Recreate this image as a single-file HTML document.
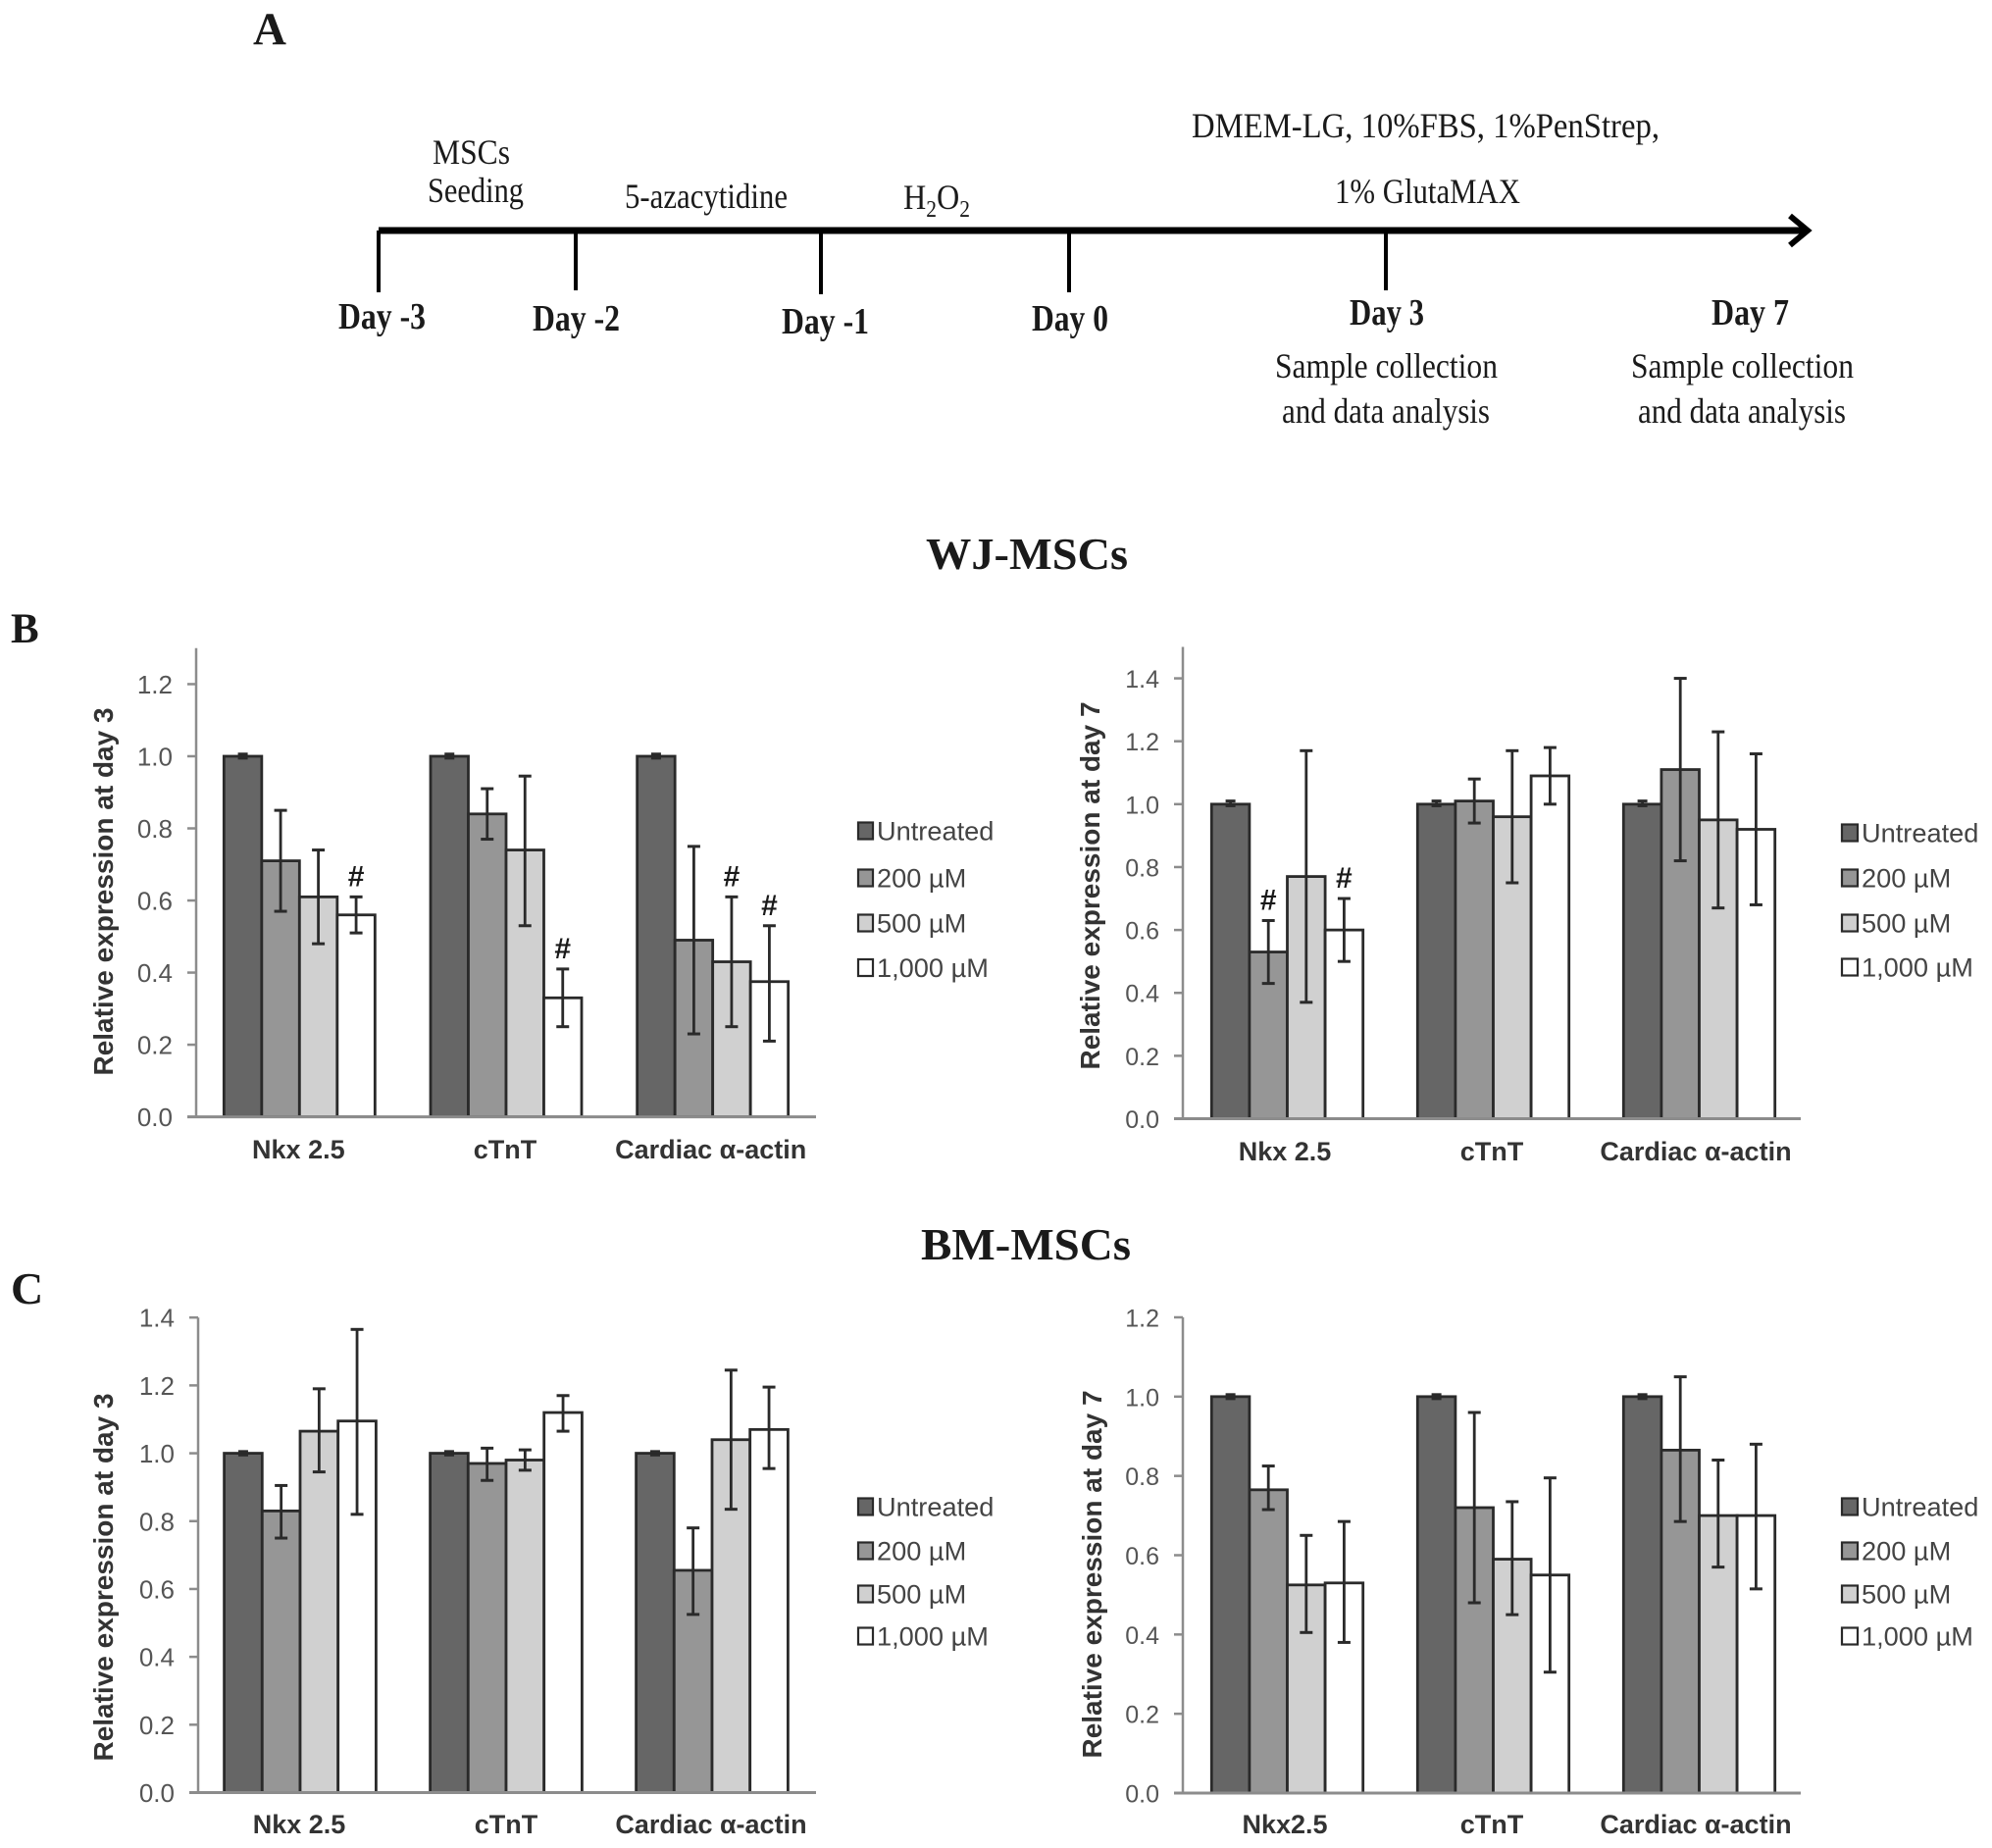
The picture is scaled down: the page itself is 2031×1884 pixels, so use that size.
<!DOCTYPE html>
<html lang="en">
<head>
<meta charset="utf-8">
<title>MSC cardiac marker expression</title>
<style>
html,body{margin:0;padding:0;background:#fff;width:2031px;height:1884px;overflow:hidden}
svg{display:block}
.serif{font-family:"Liberation Serif",serif;fill:#1a1a1a}
.sans{font-family:"Liberation Sans",sans-serif}
</style>
</head>
<body>
<svg id="figure" xmlns="http://www.w3.org/2000/svg" width="2031" height="1884" viewBox="0 0 2031 1884">
  <rect x="0" y="0" width="2031" height="1884" fill="#fff"/>

  <g>
    <text class="serif" x="258" y="45" font-size="47" font-weight="bold" fill="#111">A</text>
    <line x1="386" y1="235" x2="1840" y2="235" stroke="#000" stroke-width="7"/>
    <polyline points="1825,220 1843,235 1825,250" fill="none" stroke="#000" stroke-width="6"/>
    <line x1="386" y1="235" x2="386" y2="298" stroke="#000" stroke-width="4"/>
    <line x1="587" y1="235" x2="587" y2="296" stroke="#000" stroke-width="4"/>
    <line x1="837" y1="235" x2="837" y2="300" stroke="#000" stroke-width="4"/>
    <line x1="1090" y1="235" x2="1090" y2="298" stroke="#000" stroke-width="4"/>
    <line x1="1413" y1="235" x2="1413" y2="296" stroke="#000" stroke-width="4"/>

    <text class="serif" x="441" y="167" font-size="36" textLength="79" lengthAdjust="spacingAndGlyphs">MSCs</text>
    <text class="serif" x="436" y="206" font-size="36" textLength="98" lengthAdjust="spacingAndGlyphs">Seeding</text>
    <text class="serif" x="637" y="212" font-size="36" textLength="166" lengthAdjust="spacingAndGlyphs">5-azacytidine</text>
    <text class="serif" x="921" y="213" font-size="36" textLength="68" lengthAdjust="spacingAndGlyphs">H<tspan dy="8" font-size="24">2</tspan><tspan dy="-8">O</tspan><tspan dy="8" font-size="24">2</tspan></text>
    <text class="serif" x="1215" y="140" font-size="36" textLength="477" lengthAdjust="spacingAndGlyphs">DMEM-LG, 10%FBS,  1%PenStrep,</text>
    <text class="serif" x="1361" y="207" font-size="36" textLength="189" lengthAdjust="spacingAndGlyphs">1% GlutaMAX</text>

    <text class="serif" x="345" y="335" font-size="38" font-weight="bold" textLength="89" lengthAdjust="spacingAndGlyphs">Day -3</text>
    <text class="serif" x="543" y="337" font-size="38" font-weight="bold" textLength="89" lengthAdjust="spacingAndGlyphs">Day -2</text>
    <text class="serif" x="797" y="340" font-size="38" font-weight="bold" textLength="89" lengthAdjust="spacingAndGlyphs">Day -1</text>
    <text class="serif" x="1052" y="337" font-size="38" font-weight="bold" textLength="78" lengthAdjust="spacingAndGlyphs">Day 0</text>
    <text class="serif" x="1376" y="331" font-size="38" font-weight="bold" textLength="76" lengthAdjust="spacingAndGlyphs">Day 3</text>
    <text class="serif" x="1745" y="331" font-size="38" font-weight="bold" textLength="79" lengthAdjust="spacingAndGlyphs">Day 7</text>

    <text class="serif" x="1300" y="385" font-size="36" textLength="227" lengthAdjust="spacingAndGlyphs">Sample collection</text>
    <text class="serif" x="1307" y="431" font-size="36" textLength="212" lengthAdjust="spacingAndGlyphs">and data analysis</text>
    <text class="serif" x="1663" y="385" font-size="36" textLength="227" lengthAdjust="spacingAndGlyphs">Sample collection</text>
    <text class="serif" x="1670" y="431" font-size="36" textLength="212" lengthAdjust="spacingAndGlyphs">and data analysis</text>
  </g>

  <text class="serif" x="944" y="580" font-size="46" font-weight="bold" textLength="206" lengthAdjust="spacingAndGlyphs">WJ-MSCs</text>
  <text class="serif" x="939" y="1284" font-size="46" font-weight="bold" textLength="214" lengthAdjust="spacingAndGlyphs">BM-MSCs</text>
  <text class="serif" x="11" y="655" font-size="43" font-weight="bold" fill="#111">B</text>
  <text class="serif" x="11" y="1329" font-size="46" font-weight="bold" fill="#111">C</text>

  <g id="charts"></g>
</svg>

<script>
const seriesNames = ['Untreated', '200 µM', '500 µM', '1,000 µM'];
const seriesColors = ['#666666', '#969696', '#d0d0d0', '#ffffff'];

const wjDay3Categories = ['Nkx 2.5', 'cTnT', 'Cardiac α-actin'];
const wjDay3Ticks = ['0.0', '0.2', '0.4', '0.6', '0.8', '1.0', '1.2'];
const wjDay3Max = 1.3;
const wjDay3Means = [[1.0, 1.0, 1.0], [0.71, 0.84, 0.49], [0.61, 0.74, 0.43], [0.56, 0.33, 0.375]];
const wjDay3Upper = [[1.006, 1.006, 1.006], [0.85, 0.91, 0.75], [0.74, 0.945, 0.61], [0.61, 0.41, 0.53]];
const wjDay3Lower = [[0.995, 0.995, 0.995], [0.57, 0.77, 0.23], [0.48, 0.53, 0.25], [0.51, 0.25, 0.21]];
const wjDay3Hash = [[0, 0, 0], [0, 0, 0], [0, 0, 1], [1, 1, 1]];

const wjDay7Categories = ['Nkx 2.5', 'cTnT', 'Cardiac α-actin'];
const wjDay7Ticks = ['0.0', '0.2', '0.4', '0.6', '0.8', '1.0', '1.2', '1.4'];
const wjDay7Max = 1.5;
const wjDay7Means = [[1.0, 1.0, 1.0], [0.53, 1.01, 1.11], [0.77, 0.96, 0.95], [0.6, 1.09, 0.92]];
const wjDay7Upper = [[1.01, 1.01, 1.01], [0.63, 1.08, 1.4], [1.17, 1.17, 1.23], [0.7, 1.18, 1.16]];
const wjDay7Lower = [[0.995, 0.995, 0.995], [0.43, 0.94, 0.82], [0.37, 0.75, 0.67], [0.5, 1.0, 0.68]];
const wjDay7Hash = [[0, 0, 0], [1, 0, 0], [0, 0, 0], [1, 0, 0]];

const bmDay3Categories = ['Nkx 2.5', 'cTnT', 'Cardiac α-actin'];
const bmDay3Ticks = ['0.0', '0.2', '0.4', '0.6', '0.8', '1.0', '1.2', '1.4'];
const bmDay3Max = 1.4;
const bmDay3Means = [[1.0, 1.0, 1.0], [0.83, 0.97, 0.655], [1.065, 0.98, 1.04], [1.095, 1.12, 1.07]];
const bmDay3Upper = [[1.005, 1.005, 1.005], [0.905, 1.015, 0.78], [1.19, 1.01, 1.245], [1.365, 1.17, 1.195]];
const bmDay3Lower = [[0.995, 0.995, 0.995], [0.75, 0.92, 0.525], [0.945, 0.95, 0.835], [0.82, 1.065, 0.955]];
const bmDay3Hash = [[0, 0, 0], [0, 0, 0], [0, 0, 0], [0, 0, 0]];

const bmDay7Categories = ['Nkx2.5', 'cTnT', 'Cardiac α-actin'];
const bmDay7Ticks = ['0.0', '0.2', '0.4', '0.6', '0.8', '1.0', '1.2'];
const bmDay7Max = 1.2;
const bmDay7Means = [[1.0, 1.0, 1.0], [0.765, 0.72, 0.865], [0.525, 0.59, 0.7], [0.53, 0.55, 0.7]];
const bmDay7Upper = [[1.005, 1.005, 1.005], [0.825, 0.96, 1.05], [0.65, 0.735, 0.84], [0.685, 0.795, 0.88]];
const bmDay7Lower = [[0.995, 0.995, 0.995], [0.715, 0.48, 0.685], [0.405, 0.45, 0.57], [0.38, 0.305, 0.515]];
const bmDay7Hash = [[0, 0, 0], [0, 0, 0], [0, 0, 0], [0, 0, 0]];

const SVG_NS = 'http://www.w3.org/2000/svg';
const root = document.getElementById('charts');

function make(tag, parent, props, content) {
  const el = document.createElementNS(SVG_NS, tag);
  for (const key in props) el.setAttribute(key, props[key]);
  if (content !== undefined) el.textContent = content;
  parent.appendChild(el);
  return el;
}

function drawChart(c) {
  const g = make('g', root, {});
  
  

  const band = (c.right - c.left) / c.categories.length;
  const barWidth = c.barWidth;
  const yScale = v => c.base - (v / c.max) * (c.base - c.top);
  const groupStart = i => c.left + band * i + (band - barWidth * seriesNames.length) / 2 + c.shift;
  const barX = (i, s) => groupStart(i) + s * barWidth;

  const yAxis = make('line', g, {x1: c.left, y1: c.top, x2: c.left, y2: c.base, stroke: '#8c8c8c', 'stroke-width': 2.5});
  
  

  c.ticks.forEach(label => {
    const v = parseFloat(label);
    const tick = make('line', g, {x1: c.left - 9, y1: yScale(v), x2: c.left, y2: yScale(v), stroke: '#8c8c8c', 'stroke-width': 2.5});
    
    
    const tickLabel = make('text', g, {x: c.left - 24, y: yScale(v) + 9.5, 'text-anchor': 'end', 'font-size': c.tickSize, fill: '#555', class: 'sans'}, label);
    
    
  });

  const title = make('text', g, {transform: 'translate(' + c.titleX + ',' + c.titleY + ') rotate(-90)', 'text-anchor': 'middle', 'font-size': 28, 'font-weight': 'bold', fill: '#333', class: 'sans'}, c.title);
  
  

  seriesNames.forEach((name, s) => {
    c.categories.forEach((cat, i) => {
      const bar = make('rect', g, {x: barX(i, s), y: yScale(c.means[s][i]), width: barWidth, height: c.base - yScale(c.means[s][i]), fill: seriesColors[s], stroke: '#2a2a2a', 'stroke-width': 2.8});
      
      
    });
  });

  const xAxis = make('line', g, {x1: c.left - 9, y1: c.base, x2: c.right, y2: c.base, stroke: '#8c8c8c', 'stroke-width': 3});
  
  

  seriesNames.forEach((name, s) => {
    c.categories.forEach((cat, i) => {
      const cx = barX(i, s) + barWidth / 2;
      const hi = yScale(c.upper[s][i]);
      const lo = yScale(c.lower[s][i]);
      const capHalf = s === 0 ? 5 : 6.5;
      const stem = make('line', g, {x1: cx, y1: hi, x2: cx, y2: lo, stroke: '#2a2a2a', 'stroke-width': 2.8});
      
      
      const capTop = make('line', g, {x1: cx - capHalf, y1: hi, x2: cx + capHalf, y2: hi, stroke: '#2a2a2a', 'stroke-width': 3});
      
      
      const capBottom = make('line', g, {x1: cx - capHalf, y1: lo, x2: cx + capHalf, y2: lo, stroke: '#2a2a2a', 'stroke-width': 3});
      
      
      if (c.hash[s][i]) {
        const mark = make('text', g, {x: cx, y: hi - 11, 'text-anchor': 'middle', 'font-size': 30, 'font-weight': 'bold', fill: '#1a1a1a', class: 'sans'}, '#');
        
        
      }
    });
  });

  c.categories.forEach((cat, i) => {
    const label = make('text', g, {x: c.left + band * (i + 0.5) + c.labelShift[i], y: c.labelY, 'text-anchor': 'middle', 'font-size': 27, 'font-weight': 'bold', fill: '#333', class: 'sans'}, cat);
    
    
  });

  seriesNames.forEach((name, s) => {
    const entry = make('g', g, {});
    
    
    const rowY = c.legendY[s];
    const swatch = make('rect', entry, {x: c.legendX, y: rowY - 8.5, width: c.swatch, height: 17, fill: seriesColors[s], stroke: '#2a2a2a', 'stroke-width': 2.2});
    
    
    const text = make('text', entry, {x: c.legendX + c.swatch + 4, y: rowY + 9.5, 'font-size': 27.2, fill: '#444', class: 'sans'}, name);
    
    
  });
}

drawChart({
  name: 'wj-mscs-day-3-chart', categories: wjDay3Categories, ticks: wjDay3Ticks, max: wjDay3Max,
  means: wjDay3Means, upper: wjDay3Upper, lower: wjDay3Lower, hash: wjDay3Hash,
  left: 200, right: 832, top: 660.7, base: 1138.6, barWidth: 38.5, shift: 0, tickSize: 26,
  title: 'Relative expression at day 3', titleX: 115, titleY: 909, labelY: 1181, labelShift: [-1, -1, -2],
  legendX: 875, swatch: 15, legendY: [847, 895, 941, 986.5]
});
drawChart({
  name: 'wj-mscs-day-7-chart', categories: wjDay7Categories, ticks: wjDay7Ticks, max: wjDay7Max,
  means: wjDay7Means, upper: wjDay7Upper, lower: wjDay7Lower, hash: wjDay7Hash,
  left: 1206, right: 1836, top: 659.5, base: 1140.5, barWidth: 38.6, shift: 1.5, tickSize: 25,
  title: 'Relative expression at day 7', titleX: 1121, titleY: 903, labelY: 1183, labelShift: [-1, 0, -2],
  legendX: 1878, swatch: 16, legendY: [849, 895, 941, 986]
});
drawChart({
  name: 'bm-mscs-day-3-chart', categories: bmDay3Categories, ticks: bmDay3Ticks, max: bmDay3Max,
  means: bmDay3Means, upper: bmDay3Upper, lower: bmDay3Lower, hash: bmDay3Hash,
  left: 202, right: 832, top: 1343.2, base: 1827.5, barWidth: 38.7, shift: -1, tickSize: 26,
  title: 'Relative expression at day 3', titleX: 115, titleY: 1608, labelY: 1869, labelShift: [-2, -1, -2],
  legendX: 875, swatch: 15, legendY: [1536, 1581, 1625, 1668]
});
drawChart({
  name: 'bm-mscs-day-7-chart', categories: bmDay7Categories, ticks: bmDay7Ticks, max: bmDay7Max,
  means: bmDay7Means, upper: bmDay7Upper, lower: bmDay7Lower, hash: bmDay7Hash,
  left: 1206, right: 1836, top: 1343, base: 1828, barWidth: 38.6, shift: 1.5, tickSize: 25,
  title: 'Relative expression at day 7', titleX: 1123, titleY: 1605, labelY: 1869, labelShift: [-1, 0, -2],
  legendX: 1878, swatch: 16, legendY: [1536, 1581, 1625, 1668]
});
</script>
</body>
</html>
